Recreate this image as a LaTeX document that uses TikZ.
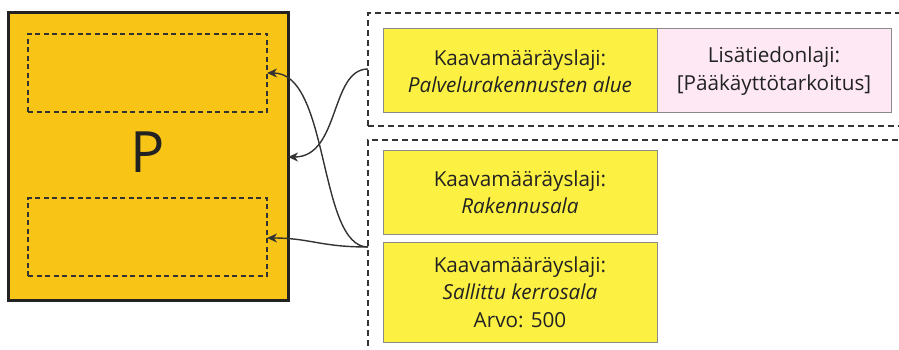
\documentclass[tikz,border=0pt]{standalone}
\usepackage{fontspec}
\setmainfont{Open Sans}
\usetikzlibrary{arrows.meta}
\definecolor{planfill}{HTML}{F8C516}
\definecolor{boxyellow}{HTML}{FCF142}
\definecolor{boxpink}{HTML}{FDE8F4}
\definecolor{ink}{HTML}{222222}
\definecolor{wire}{HTML}{333333}
\definecolor{edge}{HTML}{8A8A8A}
\tikzset{
  box/.style={draw=edge, line width=1pt, anchor=north west, inner sep=0pt, outer sep=0pt,
    align=center, text=ink, font=\fontsize{20.7}{27.5}\selectfont},
  slot/.style={draw=wire, line width=1.1pt, dash pattern=on 5pt off 3.5pt, anchor=north west,
    inner sep=0pt, outer sep=0pt},
  group/.style={draw=wire, line width=1.1pt, dash pattern=on 6pt off 4pt, anchor=north west,
    inner sep=0pt, outer sep=0pt},
  link/.style={draw=wire, line width=1.4pt, -{Stealth[length=10pt,width=9pt,inset=3pt]}}
}
\begin{document}
\begin{tikzpicture}[x=1pt,y=-1pt]
\useasboundingbox (0,0) rectangle (899,350);

% plan area with its two sub-areas
\node[draw=ink, fill=planfill, line width=3pt, anchor=north west, inner sep=0pt, outer sep=0pt,
  minimum width=280pt, minimum height=287pt] (plan) at (8,13) {};
\node[text=ink, font=\fontsize{57}{57}\selectfont] (plabel) at (148,152) {P};
\node[slot, minimum width=239pt, minimum height=78pt] (slottop) at (28,34) {};
\node[slot, minimum width=239pt, minimum height=78pt] (slotbot) at (28,198) {};

% dashed groups of regulations
\node[group, minimum width=560pt, minimum height=113pt] (grpA) at (368,13) {};
\node[group, minimum width=560pt, minimum height=240pt] (grpB) at (368,140) {};

% regulation boxes
\node[box, fill=boxyellow, minimum width=274pt, minimum height=84pt] (use) at (383,29)
  {Kaavamääräyslaji:\\\textit{Palvelurakennusten alue}};
\node[box, fill=boxpink, minimum width=234pt, minimum height=84pt] (info) at (657,29)
  {Lisätiedonlaji:\\{[}Pääkäyttötarkoitus{]}};
\node[box, fill=boxyellow, minimum width=274pt, minimum height=84pt] (bldg) at (383,150)
  {Kaavamääräyslaji:\\\textit{Rakennusala}};
\node[box, fill=boxyellow, minimum width=274pt, minimum height=100pt] (floor) at (383,242)
  {Kaavamääräyslaji:\\\textit{Sallittu kerrosala}\\Arvo: 500};

% connector end points
\coordinate (srcA) at (grpA.west |- 0,69);
\coordinate (srcB) at (grpB.west |- 0,247);
\coordinate (dstP) at (plan.east |- 0,157);
\coordinate (dstT) at (slottop.east |- 0,73);
\coordinate (dstB) at (slotbot.east |- 0,238);

\draw[link] (srcA) .. controls (330,69) and (340,157) .. (dstP);
\draw[link] (srcB) .. controls (318,247) and (330,73) .. (dstT);
\draw[link] (srcB) .. controls (320,247) and (310,238) .. (dstB);
\end{tikzpicture}
\end{document}
